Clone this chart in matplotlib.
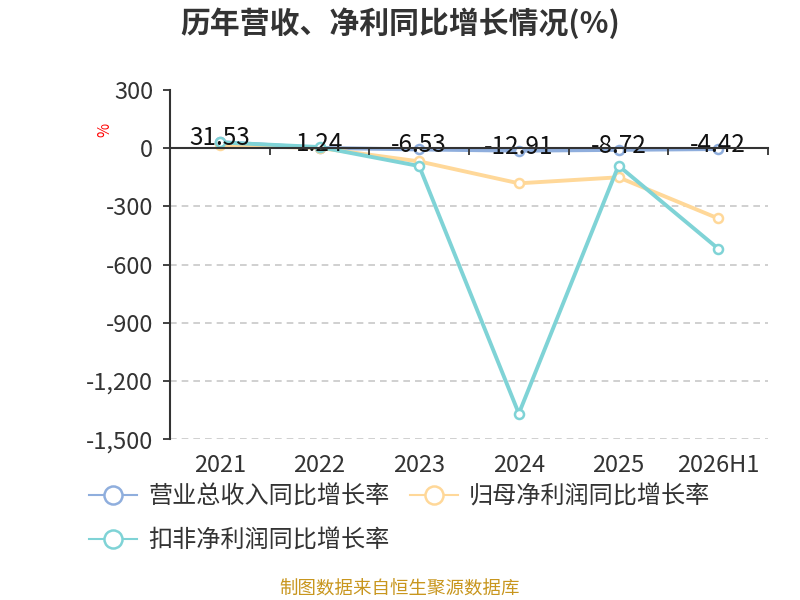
import matplotlib
matplotlib.use("Agg")
import matplotlib.pyplot as plt
from matplotlib.lines import Line2D

plt.rcParams['font.family'] = ['Noto Sans CJK SC', 'DejaVu Sans']

categories = ["2021", "2022", "2023", "2024", "2025", "2026H1"]
revenue_growth = [31.53, 1.24, -6.53, -12.91, -8.72, -4.42]
parent_profit_growth = [15, 1, -68, -181, -150, -362]
deducted_profit_growth = [30, 6, -92, -1368, -90, -518]
y_ticks = [300, 0, -300, -600, -900, -1200, -1500]
series_names = ["营业总收入同比增长率", "归母净利润同比增长率", "扣非净利润同比增长率"]
colors = ["#8FAEDD", "#FFD899", "#7FD3D6"]

fig = plt.figure(figsize=(8, 6), dpi=100)
rect = [0.2125, 0.268, 0.7475, 0.582]
ax = fig.add_axes(rect)

x = list(range(len(categories)))
for vals, c, name in zip([revenue_growth, parent_profit_growth, deducted_profit_growth], colors, series_names):
    ax.plot(x, vals, color=c, lw=2.8, marker='o', ms=6.5, mfc='white', mec=c, mew=1.8,
            label=name, zorder=3, solid_capstyle='round')

for xi, v in zip(x, revenue_growth):
    ax.annotate(f"{v:.2f}", (xi, v), xytext=(0, 3), textcoords='offset points',
                ha='center', va='center', fontsize=17.5, color='#111111', zorder=5)

ax.set_xlim(-0.5, len(categories) - 0.5)
ax.set_ylim(-1500, 300)
ax.set_yticks(y_ticks)
ax.set_yticklabels([f"{t:,}" for t in y_ticks])
ax.tick_params(axis='y', labelsize=17, colors='#333333', length=5, width=1.3, pad=7)

for t in y_ticks:
    if t not in (0, 300):
        ax.axhline(t, color='#C8C8C8', lw=1.2, ls=(0, (4, 3)), zorder=1)

for s in ['top', 'right', 'bottom']:
    ax.spines[s].set_visible(False)
ax.spines['left'].set_color('#333333')
ax.spines['left'].set_linewidth(1.5)

# category axis line at zero with ticks between categories
ax2 = fig.add_axes(rect, zorder=2)
ax2.set_xlim(ax.get_xlim())
ax2.set_ylim(ax.get_ylim())
ax2.patch.set_visible(False)
for s in ['top', 'right', 'left']:
    ax2.spines[s].set_visible(False)
ax2.spines['bottom'].set_position(('data', 0))
ax2.spines['bottom'].set_color('#333333')
ax2.spines['bottom'].set_linewidth(1.5)
ax2.yaxis.set_visible(False)
ax2.set_xticks([i + 0.5 for i in range(len(categories) - 1)] + [len(categories) - 0.5])
ax2.set_xticklabels([])
ax2.tick_params(axis='x', direction='out', length=5, width=1.3, colors='#333333')

ax.set_xticks(x)
ax.set_xticklabels(categories)
ax.tick_params(axis='x', length=0, labelsize=17, labelcolor='#333333', pad=11)

fig.text(0.131, 0.783, "%", color='red', fontsize=11, rotation=90, ha='center', va='center')

fig.text(0.5, 0.962, "历年营收、净利同比增长情况(%)", ha='center', va='center',
         fontsize=21.5, fontweight='bold', color='#333333')

handles = [Line2D([], [], color=c, lw=1.5, marker='o', ms=13, mfc='white', mec=c, mew=1.8)
           for c in colors]
order = [0, 2, 1]
leg = fig.legend([handles[i] for i in order], [series_names[i] for i in order],
                 loc='upper left', bbox_to_anchor=(0.099, 0.21), ncol=2, frameon=False,
                 fontsize=17.4, handlelength=2.0, handletextpad=0.45, columnspacing=0.85,
                 labelspacing=0.75, borderaxespad=0)
for t in leg.get_texts():
    t.set_color('#333333')

fig.text(0.5, 0.017, "制图数据来自恒生聚源数据库", ha='center', va='center',
         fontsize=13.3, color='#C8961E')

fig.savefig("out.png", dpi=100)
